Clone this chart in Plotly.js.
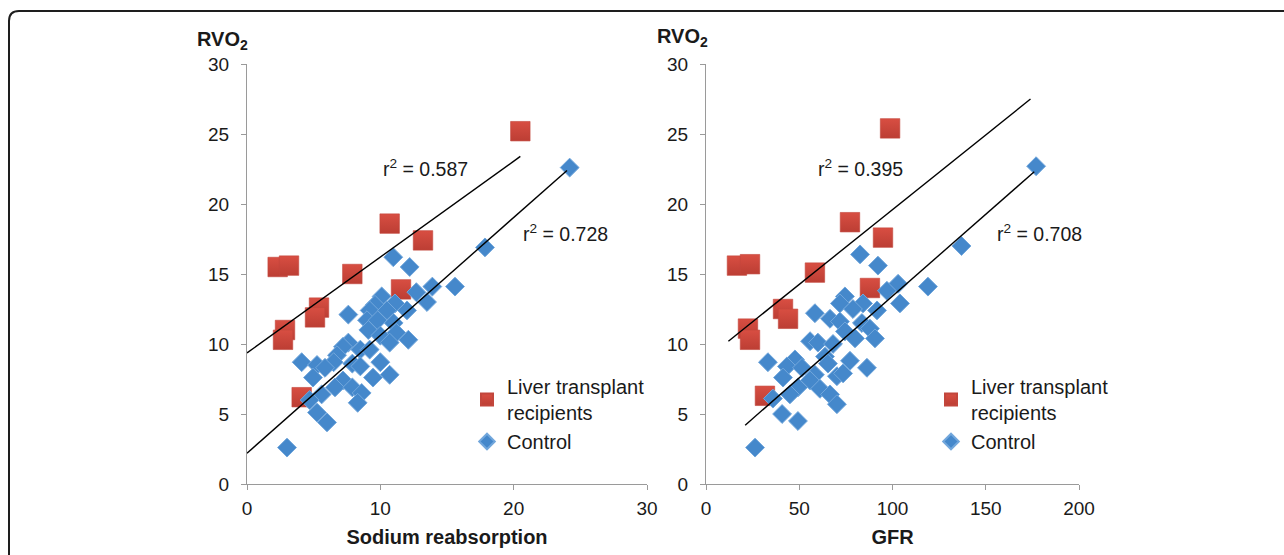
<!DOCTYPE html>
<html>
<head>
<meta charset="utf-8">
<script src="https://cdn.plot.ly/plotly-3.0.1.min.js"></script>
<style>
  html, body { margin: 0; padding: 0; background: #fff; }
  #chart { width: 1284px; height: 555px; }
</style>
</head>
<body>
<div id="chart"></div>
<script>
// ---- Data ----
// Left panel: RVO2 vs Sodium reabsorption
const ltSodium = [20.5, 10.7, 13.2, 2.3, 3.15, 7.9, 11.55, 5.4, 5.1, 2.85, 2.7, 4.1];
const ltRVO2L  = [25.2, 18.6, 17.4, 15.5, 15.6, 15.0, 13.9, 12.6, 11.9, 11.0, 10.3, 6.2];

const ctrlSodium = [24.2, 17.85, 10.97, 12.2, 15.6, 13.9, 12.7, 13.5, 7.6, 10.1, 11.1, 9.6, 9.2, 10.5, 12.0, 9.0, 9.8, 11.0, 9.1, 10.0, 11.2, 12.1, 10.7, 7.6, 7.2, 8.5, 9.2, 6.75, 6.5, 4.1, 5.25, 5.85, 7.9, 8.5, 10.0, 9.45, 10.7, 4.95, 7.2, 6.6, 7.9, 8.6, 5.6, 4.7, 8.3, 5.25, 6.0, 3.0];
const ctrlRVO2L  = [22.6, 16.9, 16.2, 15.5, 14.1, 14.1, 13.7, 13.0, 12.1, 13.4, 12.9, 12.8, 12.4, 12.4, 12.4, 11.7, 11.7, 11.5, 11.0, 10.6, 10.8, 10.3, 10.1, 10.1, 9.8, 9.6, 9.6, 9.2, 8.7, 8.7, 8.5, 8.3, 8.6, 8.4, 8.7, 7.6, 7.8, 7.6, 7.4, 6.9, 6.9, 6.5, 6.4, 6.0, 5.8, 5.1, 4.4, 2.6];

// Right panel: RVO2 vs GFR
const ltGFR   = [98.7, 77.2, 94.9, 16.6, 23.6, 58.4, 87.9, 41.3, 44.0, 22.5, 23.6, 31.6];
const ltRVO2R = [25.4, 18.7, 17.6, 15.6, 15.7, 15.1, 14.0, 12.5, 11.8, 11.1, 10.3, 6.3];

const ctrlGFR   = [177, 137, 119, 82.6, 92.2, 103, 97, 104, 58.4, 74.5, 71.8, 84.2, 78.8, 91.7, 66.5, 71.8, 83.6, 87.9, 74.5, 79.9, 90.6, 55.8, 60, 68.1, 63.8, 47.7, 33.2, 43.4, 51.5, 65.4, 77.2, 86.3, 58.4, 70.2, 73.5, 41.3, 49.3, 55.8, 61.1, 66.5, 70.2, 45, 35.9, 40.8, 49.3, 26.3];
const ctrlRVO2R = [22.7, 17.0, 14.1, 16.4, 15.6, 14.3, 13.8, 12.9, 12.2, 13.4, 12.9, 12.9, 12.5, 12.4, 11.8, 11.6, 11.5, 11.1, 10.9, 10.4, 10.4, 10.2, 10.1, 10.0, 9.1, 8.9, 8.7, 8.4, 8.3, 8.6, 8.8, 8.3, 7.8, 7.7, 7.9, 7.6, 6.9, 7.4, 6.8, 6.4, 5.7, 6.4, 6.1, 5.0, 4.5, 2.6];

// Regression line end points
const fitLtSodX = [0, 20.5],  fitLtSodY = [9.36, 23.4];
const fitCtSodX = [0, 24.0],  fitCtSodY = [2.2, 22.4];
const fitLtGfrX = [12, 174],  fitLtGfrY = [10.2, 27.5];
const fitCtGfrX = [21, 176],  fitCtGfrY = [4.2, 22.3];

const r2Labels = ['r<sup>2</sup> = 0.587', 'r<sup>2</sup> = 0.728', 'r<sup>2</sup> = 0.395', 'r<sup>2</sup> = 0.708'];
const seriesNames = ['Liver transplant<br>recipients', 'Control'];
const xTitles = ['Sodium reabsorption', 'GFR'];
const yLabel = '<b>RVO<sub>2</sub></b>';

// ---- Styles ----
const FONT = 'Liberation Sans, Arial, Helvetica, sans-serif';
const RED = '#D84E42', RED_DARK = '#BC3E34';
const BLUE = '#4588CB', BLUE_EDGE = '#72A7DC';

const redMarker = {symbol: 'square', size: 19.5, color: RED,
  gradient: {type: 'vertical', color: RED_DARK},
  line: {color: '#C2463C', width: 0.6}};
const blueMarker = {symbol: 'diamond', size: 14.5, color: BLUE,
  line: {color: BLUE_EDGE, width: 1}};
const fitLine = {color: '#000', width: 1.4};

const traces = [
  {x: ltSodium, y: ltRVO2L, xaxis: 'x', yaxis: 'y', type: 'scatter', mode: 'markers',
   name: seriesNames[0], marker: redMarker, legend: 'legend'},
  {x: ctrlSodium, y: ctrlRVO2L, xaxis: 'x', yaxis: 'y', type: 'scatter', mode: 'markers',
   name: seriesNames[1], marker: blueMarker, legend: 'legend'},
  {x: fitLtSodX, y: fitLtSodY, xaxis: 'x', yaxis: 'y', type: 'scatter', mode: 'lines', line: fitLine, showlegend: false},
  {x: fitCtSodX, y: fitCtSodY, xaxis: 'x', yaxis: 'y', type: 'scatter', mode: 'lines', line: fitLine, showlegend: false},

  {x: ltGFR, y: ltRVO2R, xaxis: 'x2', yaxis: 'y2', type: 'scatter', mode: 'markers',
   name: seriesNames[0], marker: redMarker, legend: 'legend2'},
  {x: ctrlGFR, y: ctrlRVO2R, xaxis: 'x2', yaxis: 'y2', type: 'scatter', mode: 'markers',
   name: seriesNames[1], marker: blueMarker, legend: 'legend2'},
  {x: fitLtGfrX, y: fitLtGfrY, xaxis: 'x2', yaxis: 'y2', type: 'scatter', mode: 'lines', line: fitLine, showlegend: false},
  {x: fitCtGfrX, y: fitCtGfrY, xaxis: 'x2', yaxis: 'y2', type: 'scatter', mode: 'lines', line: fitLine, showlegend: false}
];

const W = 1284, H = 555;
const px = v => v / W, py = v => 1 - v / H;

const axisCommon = {
  showgrid: false, zeroline: false, showline: true, linecolor: '#9a9a9a', linewidth: 1,
  ticks: 'outside', ticklen: 5, tickcolor: '#9a9a9a', tickwidth: 1,
  tickfont: {family: FONT, size: 19, color: '#1a1a1a'},
  fixedrange: true
};

const yDomain = [py(484), py(64)];
const titleFont = {family: FONT, size: 20, color: '#1a1a1a'};
const legendFont = {family: FONT, size: 20, color: '#1a1a1a'};

const layout = {
  width: W, height: H,
  margin: {l: 0, r: 0, t: 0, b: 0},
  paper_bgcolor: '#fff', plot_bgcolor: 'rgba(0,0,0,0)',
  font: {family: FONT, size: 20, color: '#1a1a1a'},
  xaxis: Object.assign({}, axisCommon, {domain: [px(247), px(647)], range: [0, 30], tickvals: [0, 10, 20, 30],
    anchor: 'y', ticklabelstandoff: 2,
    title: {text: '<b>' + xTitles[0] + '</b>', font: titleFont, standoff: 12}}),
  yaxis: Object.assign({}, axisCommon, {domain: yDomain, range: [0, 30], tickvals: [0, 5, 10, 15, 20, 25, 30],
    anchor: 'x', ticklabelstandoff: 8}),
  xaxis2: Object.assign({}, axisCommon, {domain: [px(706), px(1079)], range: [0, 200], tickvals: [0, 50, 100, 150, 200],
    anchor: 'y2', ticklabelstandoff: 2,
    title: {text: '<b>' + xTitles[1] + '</b>', font: titleFont, standoff: 12}}),
  yaxis2: Object.assign({}, axisCommon, {domain: yDomain, range: [0, 30], tickvals: [0, 5, 10, 15, 20, 25, 30],
    anchor: 'x2', ticklabelstandoff: 8}),
  legend: {x: px(467), y: py(367), xanchor: 'left', yanchor: 'top', bgcolor: 'rgba(0,0,0,0)',
    font: legendFont, itemsizing: 'constant', tracegroupgap: 0},
  legend2: {x: px(931), y: py(367), xanchor: 'left', yanchor: 'top', bgcolor: 'rgba(0,0,0,0)',
    font: legendFont, itemsizing: 'constant', tracegroupgap: 0},
  showlegend: true,
  annotations: [
    {xref: 'x', yref: 'y', x: 13.35, y: 22.6, text: r2Labels[0], showarrow: false, font: {size: 19.5}},
    {xref: 'x', yref: 'y', x: 23.9, y: 17.9, text: r2Labels[1], showarrow: false, font: {size: 19.5}},
    {xref: 'x2', yref: 'y2', x: 82.6, y: 22.6, text: r2Labels[2], showarrow: false, font: {size: 19.5}},
    {xref: 'x2', yref: 'y2', x: 178.6, y: 17.9, text: r2Labels[3], showarrow: false, font: {size: 19.5}},
    {xref: 'paper', yref: 'paper', x: px(195), y: py(40), xanchor: 'left', yanchor: 'middle', text: yLabel, showarrow: false, font: {size: 20}},
    {xref: 'paper', yref: 'paper', x: px(655), y: py(38), xanchor: 'left', yanchor: 'middle', text: yLabel, showarrow: false, font: {size: 20}}
  ],
  shapes: [
    {type: 'path', xref: 'paper', yref: 'paper', layer: 'above',
     path: 'M ' + px(9) + ',' + py(560) + ' L ' + px(9) + ',' + py(21) +
           ' Q ' + px(9) + ',' + py(11) + ' ' + px(19) + ',' + py(11) +
           ' L ' + px(1290) + ',' + py(11),
     line: {color: '#1e1e1e', width: 2}}
  ]
};

Plotly.newPlot('chart', traces, layout, {staticPlot: true, displayModeBar: false});
</script>
</body>
</html>
